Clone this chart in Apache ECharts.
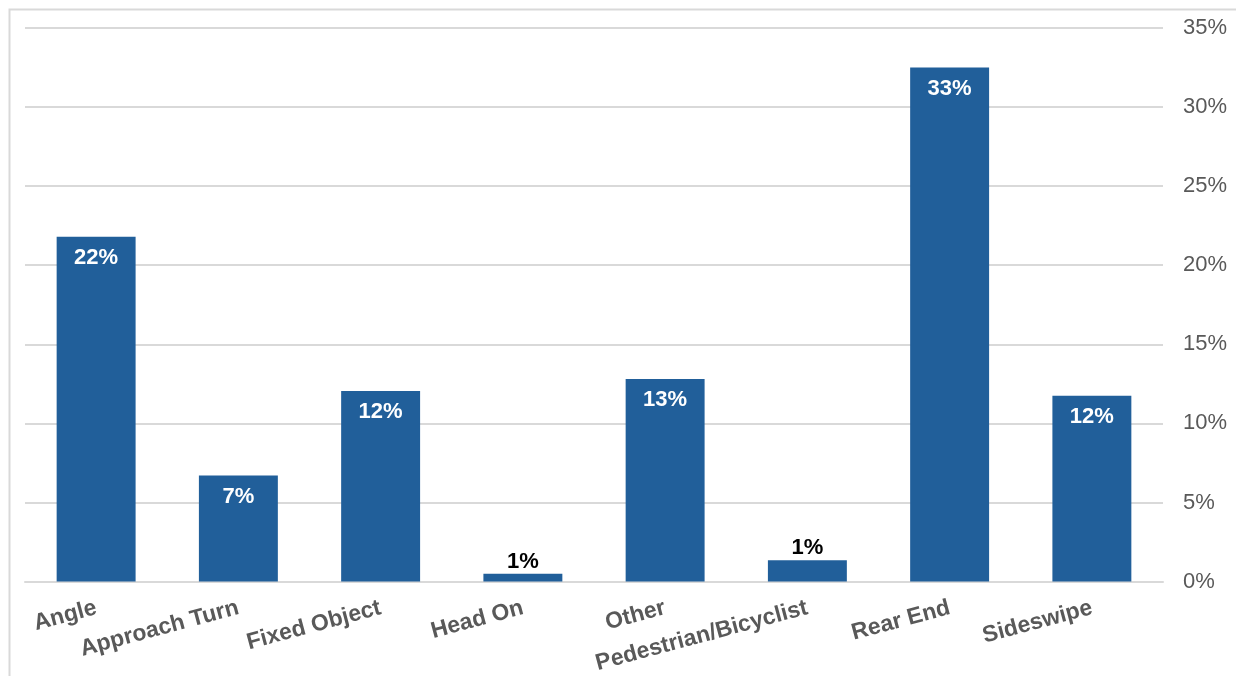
<!DOCTYPE html>
<html>
<head>
<meta charset="utf-8">
<script src="https://cdn.jsdelivr.net/npm/echarts@6/dist/echarts.min.js"></script>
<style>
html,body{margin:0;padding:0;background:#fff;}
#c{width:1236px;height:676px;}
</style>
</head>
<body>
<div id="c"></div>
<script>
var categories = ['Angle','Approach Turn','Fixed Object','Head On','Other','Pedestrian/Bicyclist','Rear End','Sideswipe'];
var values = [21.8, 6.7, 12.05, 0.5, 12.8, 1.35, 32.5, 11.75];
var yTicks = [0, 5, 10, 15, 20, 25, 30, 35];

var chart = echarts.init(document.getElementById('c'));
var data = values.map(function(v){
  var small = v < 3;
  return {
    value: v,
    label: small ? {position:'top', color:'#000000', distance:1} : {position:'insideTop', color:'#ffffff', distance:10}
  };
});
chart.setOption({
  animation:false,
  backgroundColor:'#ffffff',
  graphic:[{
    type:'rect', left:7, top:7,
    shape:{x:0,y:0,width:1240,height:700},
    style:{fill:'none', stroke:'#d9d9d9', lineWidth:2},
    silent:true, z:-1
  }],
  grid:{left:25, right:73, top:28, bottom:91, containLabel:false},
  xAxis:{
    type:'category',
    data:categories,
    axisLine:{show:true, lineStyle:{color:'#d9d9d9', width:2}},
    axisTick:{show:false},
    axisLabel:{
      interval:0, rotate:15, margin:26,
      fontFamily:'Liberation Sans, Arial, sans-serif',
      fontSize:23, fontWeight:'bold', color:'#595959'
    }
  },
  yAxis:{
    type:'value', position:'right',
    min:0, max:35, interval:5,
    axisLine:{show:false}, axisTick:{show:false},
    splitLine:{lineStyle:{color:'#d9d9d9', width:2}},
    axisLabel:{
      margin:20,
      formatter:function(v){ return yTicks.indexOf(v) >= 0 ? v + '%' : ''; },
      fontFamily:'Liberation Sans, Arial, sans-serif',
      fontSize:22, color:'#595959'
    }
  },
  series:[{
    type:'bar',
    data:data,
    barWidth:'55.5%',
    itemStyle:{color:'#215F9A'},
    label:{
      show:true,
      fontFamily:'Liberation Sans, Arial, sans-serif',
      fontSize:22, fontWeight:'bold',
      formatter:function(p){ return Math.round(p.value) + '%'; }
    }
  }]
});
</script>
</body>
</html>
